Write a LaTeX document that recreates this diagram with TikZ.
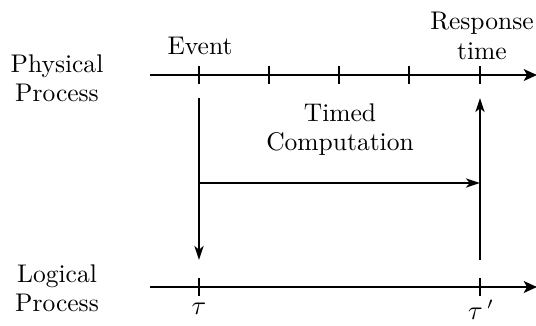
\documentclass[tikz,border=0pt]{standalone}
\usetikzlibrary{arrows.meta}
\begin{document}
\begin{tikzpicture}[x=0.4115pt,y=-0.4115pt,
  axis/.style={line width=1.1pt,-{Stealth[length=5.4pt,width=4.8pt,inset=1.3pt]}},
  flow/.style={line width=0.8pt,-{Stealth[length=5.8pt,width=3.8pt,inset=1.6pt]}},
  tick/.style={line width=0.9pt},
  lbl/.style={align=center,inner sep=0pt,font=\fontsize{10.5}{12}\selectfont}]
\useasboundingbox (0,0) rectangle (536,325);
% time axes
\coordinate (pa) at (150,75);
\coordinate (pb) at (537,75);
\coordinate (la) at (150,287);
\coordinate (lb) at (537,287);
\draw[axis] (pa) -- (pb);
\draw[axis] (la) -- (lb);
% ticks on the physical axis
\foreach \x in {199,269,339,409,480}
  \draw[tick] (\x,66) -- (\x,84);
% ticks on the logical axis
\draw[tick] (199,278) -- (199,296);
\draw[tick] (480,278) -- (480,296);
% labels
\node[lbl] (phys) at (57,78) {Physical\\Process};
\node[lbl] (logi) at (57,288) {Logical\\Process};
\node[lbl] (event) at (200,46) {Event};
\node[lbl] (resp) at (482,36) {Response\\time};
\node[lbl] (comp) at (340,130) {Timed\\Computation};
\node[lbl,anchor=north] (tau) at (199,303) {$\tau$};
\node[lbl,anchor=north] (taup) at (481,300) {$\tau\,'$};
% computation flow
\coordinate (d0) at (199,98);
\coordinate (d1) at (199,260);
\coordinate (h0) at (199,183);
\coordinate (h1) at (480,183);
\coordinate (u0) at (480,260);
\coordinate (u1) at (480,98);
\draw[flow] (d0) -- (d1);
\draw[flow] (h0) -- (h1);
\draw[flow] (u0) -- (u1);
\end{tikzpicture}
\end{document}
